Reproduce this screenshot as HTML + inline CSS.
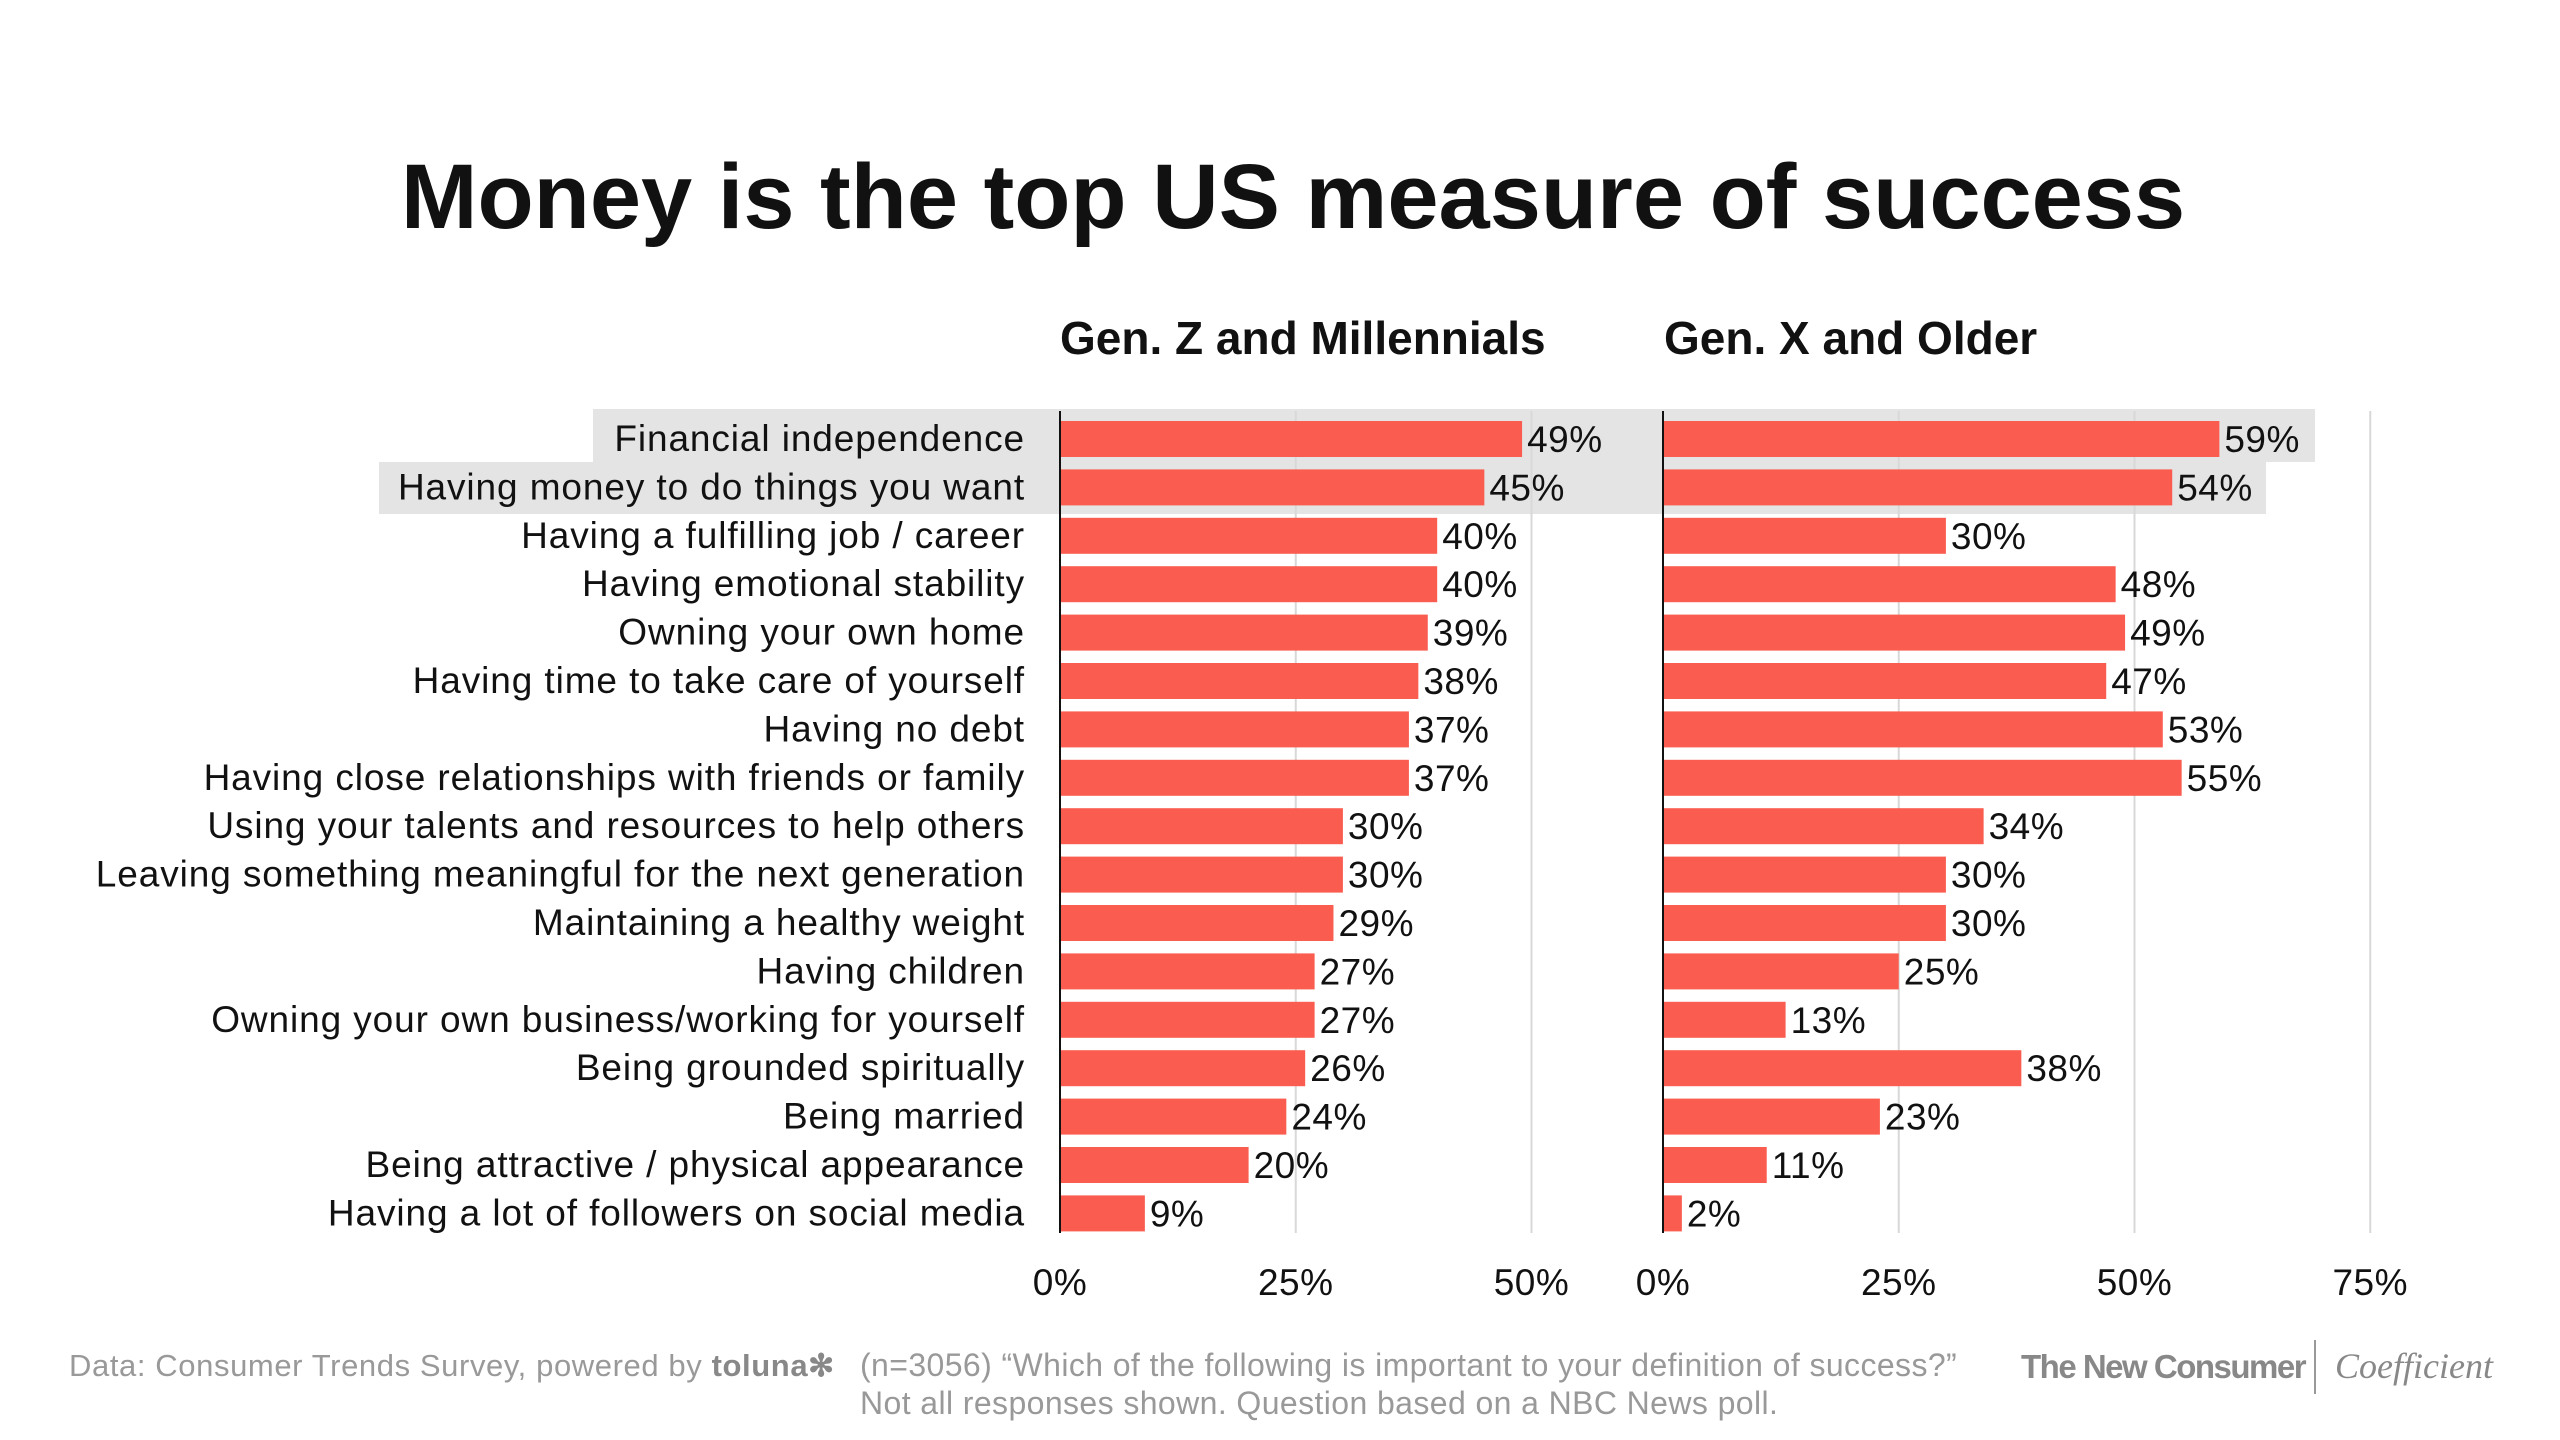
<!DOCTYPE html>
<html><head><meta charset="utf-8"><style>
html,body{margin:0;padding:0;background:#fff;}
svg{display:block;font-family:"Liberation Sans",sans-serif;}
</style></head><body>
<svg id="chart" width="2560" height="1440" viewBox="0 0 2560 1440">
<text x="1293" y="228" text-anchor="middle" font-size="92" font-weight="bold" fill="#111">Money is the top US measure of success</text>
<text x="1060" y="354" font-size="46" font-weight="bold" fill="#111">Gen. Z and Millennials</text>
<text x="1664" y="354" font-size="46" font-weight="bold" fill="#111">Gen. X and Older</text>
<g id="hl"></g><g id="grid"></g><g id="bars"></g><g id="labels"></g>
<text x="69" y="1376" font-size="31" letter-spacing="0.6" fill="#999">Data: Consumer Trends Survey, powered by <tspan font-weight="bold" fill="#888">toluna✻</tspan></text>
<text x="860" y="1376" font-size="32" letter-spacing="0.4" fill="#999">(n=3056) “Which of the following is important to your definition of success?”</text>
<text x="860" y="1414" font-size="32" letter-spacing="0.4" fill="#999">Not all responses shown. Question based on a NBC News poll.</text>
<text x="2021" y="1378" font-size="33" font-weight="bold" fill="#888" letter-spacing="-1.5">The New Consumer</text>
<line x1="2315" y1="1340" x2="2315" y2="1394" stroke="#999" stroke-width="2"/>
<text x="2335" y="1378" font-size="36" font-style="italic" fill="#888" font-family="Liberation Serif,serif">Coefficient</text>
</svg>
<script>
const categories=["Financial independence","Having money to do things you want","Having a fulfilling job / career","Having emotional stability","Owning your own home","Having time to take care of yourself","Having no debt","Having close relationships with friends or family","Using your talents and resources to help others","Leaving something meaningful for the next generation","Maintaining a healthy weight","Having children","Owning your own business/working for yourself","Being grounded spiritually","Being married","Being attractive / physical appearance","Having a lot of followers on social media"];
const genZ=[49,45,40,40,39,38,37,37,30,30,29,27,27,26,24,20,9];
const genX=[59,54,30,48,49,47,53,55,34,30,30,25,13,38,23,11,2];
const leftTicks=[0,25,50];
const rightTicks=[0,25,50,75];
const NS="http://www.w3.org/2000/svg";
const pxPer=9.43, L0=1060, R0=1663, rowY0=439, rowStep=48.4, barH=36;
const xL=v=>L0+v*pxPer, xR=v=>R0+v*pxPer, yRow=i=>rowY0+i*rowStep;
function mk(tag,attrs,parent){const e=document.createElementNS(NS,tag);for(const k in attrs)e.setAttribute(k,attrs[k]);document.getElementById(parent).appendChild(e);return e;}
const h1=mk('rect',{x:593,y:409,width:2315-593,height:53,fill:'#e4e4e4'},'hl');


const h2=mk('rect',{x:379,y:462,width:2266-379,height:52,fill:'#e4e4e4'},'hl');


const yTop=411,yBot=1233;
leftTicks.forEach(t=>{
 if(t>0){const g=mk('line',{x1:xL(t),x2:xL(t),y1:yTop,y2:yBot,stroke:'#d8d8d8','stroke-width':2},'grid');
 
 }
 const tx=mk('text',{x:xL(t),y:1295,'font-size':37,'letter-spacing':0.5,'text-anchor':'middle',fill:'#111'},'grid');tx.textContent=t+'%';
 
 
});
rightTicks.forEach(t=>{
 if(t>0){const g=mk('line',{x1:xR(t),x2:xR(t),y1:yTop,y2:yBot,stroke:'#d8d8d8','stroke-width':2},'grid');
 
 }
 const tx=mk('text',{x:xR(t),y:1295,'font-size':37,'letter-spacing':0.5,'text-anchor':'middle',fill:'#111'},'grid');tx.textContent=t+'%';
 
 
});
categories.forEach((c,i)=>{
 const y=yRow(i);
 const lb=mk('text',{x:1025,y:y+12,'font-size':37,'letter-spacing':0.9,'text-anchor':'end',fill:'#111'},'labels');lb.textContent=c;
 
 
 const b1=mk('rect',{x:L0,y:y-barH/2,width:genZ[i]*pxPer,height:barH,fill:'#fa5c50'},'bars');
 
 
 const v1=mk('text',{x:xL(genZ[i])+5,y:y+13,'font-size':37,'letter-spacing':0.5,fill:'#111'},'labels');v1.textContent=genZ[i]+'%';
 
 
 const b2=mk('rect',{x:R0,y:y-barH/2,width:genX[i]*pxPer,height:barH,fill:'#fa5c50'},'bars');
 
 
 const v2=mk('text',{x:xR(genX[i])+5,y:y+13,'font-size':37,'letter-spacing':0.5,fill:'#111'},'labels');v2.textContent=genX[i]+'%';
 
 
});
const a1=mk('line',{x1:L0,x2:L0,y1:yTop,y2:yBot,stroke:'#111','stroke-width':2},'bars');


const a2=mk('line',{x1:R0,x2:R0,y1:yTop,y2:yBot,stroke:'#111','stroke-width':2},'bars');


</script>
</body></html>
